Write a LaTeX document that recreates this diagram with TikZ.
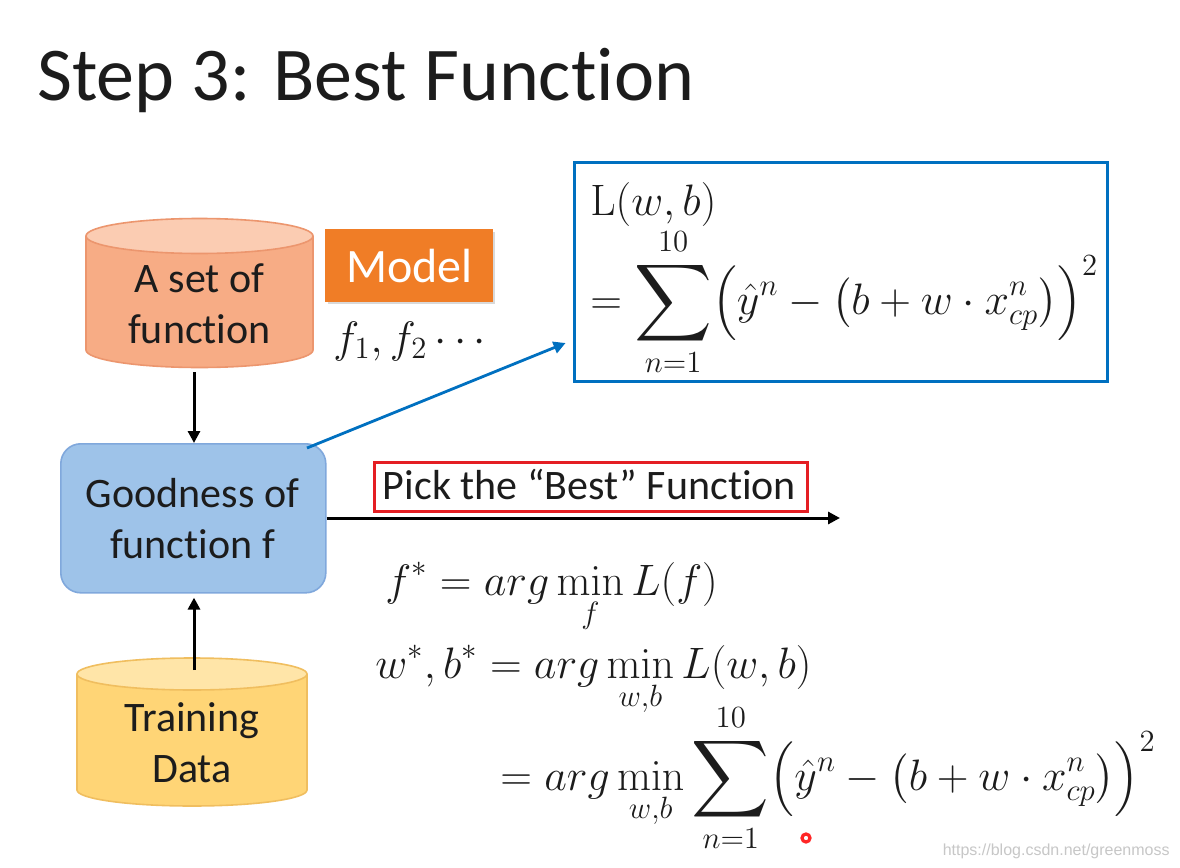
\RequirePackage{fix-cm}
\documentclass[tikz,border=0pt]{standalone}
\usepackage{amsmath}
\usepackage{graphicx}
\usepackage[no-math]{fontspec}
\setmainfont{Carlito}[Ligatures=NoCommon]
\newfontfamily\wmfont{Liberation Sans}
\usetikzlibrary{arrows.meta}
\newcommand{\bigsum}{\mathop{\vcenter{\hbox{\scalebox{1.3}{$\displaystyle\sum$}}}}\limits}
\definecolor{setbody}{RGB}{247,172,133}
\definecolor{settop}{RGB}{251,204,178}
\definecolor{setline}{RGB}{236,150,110}
\definecolor{trbody}{RGB}{255,213,118}
\definecolor{trtop}{RGB}{255,229,168}
\definecolor{trline}{RGB}{240,190,95}
\definecolor{goodfill}{RGB}{158,195,233}
\definecolor{goodline}{RGB}{128,168,220}
\definecolor{modelfill}{RGB}{240,125,38}
\definecolor{bluebox}{RGB}{0,112,192}
\definecolor{redbox}{RGB}{228,30,35}
\definecolor{txt}{RGB}{28,28,28}
\tikzset{
  lbl/.style={font=\fontsize{21}{25.5}\selectfont, text=txt, align=center, inner sep=0pt},
  mth/.style={font=\fontsize{22}{26}\selectfont, text=txt, inner sep=0pt, anchor=base west},
  blackarrow/.style={draw=black, line width=1.5pt, -{Triangle[length=6pt,width=6pt]}},
  bluearrow/.style={draw=bluebox, line width=1.4pt, -{Triangle[length=6pt,width=6pt]}},
}
\begin{document}
\begin{tikzpicture}[x=0.5pt,y=-0.5pt]
\useasboundingbox (0,0) rectangle (1180,868);
\fill[white] (0,0) rectangle (1180,868);
% title
\node[anchor=base west, inner sep=0pt, text=txt, font=\fontsize{38}{40}\selectfont] (title) at (37,100) {Step 3: Best Function};
% set of function cylinder
\fill[setbody] (86,236) rectangle (313,350);
\fill[setbody] (199.5,350) ellipse [x radius=113.5, y radius=17.5];
\draw[setline, line width=0.8pt] (86,236) -- (86,350) arc[start angle=180, end angle=0, x radius=113.5, y radius=17.5] -- (313,236);
\filldraw[fill=settop, draw=setline, line width=0.8pt] (199.5,236) ellipse [x radius=113.5, y radius=17.5];
\node[lbl] (set) at (199.5,304) {A set of\\function};
\coordinate (setbot) at (194,372);
% model
\fill[black!15] (328,232) rectangle (495,304);
\node[fill=modelfill, text=white, inner sep=0pt, minimum width=84pt, minimum height=36.5pt, font=\fontsize{24}{28}\selectfont, anchor=north west] (model) at (325,229) {Model};
\node[mth, text=txt] (fs) at (333,352) {$f_1,f_2\cdots$};
% goodness
\node[draw=goodline, fill=goodfill, rounded corners=10pt, line width=0.8pt, minimum width=132.5pt, minimum height=74.5pt, anchor=north west] (good) at (60,443) {};
\node[lbl] (goodtext) at (192.5,519) {Goodness of\\function f};
% training data
\fill[trbody] (77,674) rectangle (307,790);
\fill[trbody] (192,790) ellipse [x radius=115, y radius=16];
\draw[trline, line width=0.8pt] (77,674) -- (77,790) arc[start angle=180, end angle=0, x radius=115, y radius=16] -- (307,674);
\filldraw[fill=trtop, draw=trline, line width=0.8pt] (192,674) ellipse [x radius=115, y radius=16];
\node[lbl] (train) at (192,743) {Training\\Data};
\coordinate (trtopc) at (194,670);
% arrows
\draw[blackarrow] (setbot) -- (good.north -| setbot);
\draw[blackarrow, shorten >=2pt] (trtopc) -- (good.south -| trtopc);
% blue box
\node[draw=bluebox, line width=1.5pt, minimum width=266.5pt, minimum height=109.5pt, anchor=north west] (loss) at (573,161) {};
\node[mth] (l1) at (590,215) {$\mathrm{L}(w,b)$};
\node[mth] (l2) at (590,314) {$\displaystyle = \bigsum_{n=1}^{10}\Bigl(\hat{y}^n - \bigl(b + w\cdot x_{cp}^n\bigr)\Bigr)^2$};
\coordinate (goodcorner) at (307,448);
\draw[bluearrow, shorten >=4pt] (goodcorner) -- (loss.west |- 0,340);
% pick box
\node[draw=redbox, line width=1.5pt, minimum width=216.5pt, minimum height=24.5pt, anchor=north west] (pick) at (373,461) {};
\node[lbl, anchor=center] (picktext) at (589.5,485) {Pick the “Best” Function};
\coordinate (arrend) at (840,518);
\draw[blackarrow] (good.east |- arrend) -- (arrend);
% formulas
\node[mth] (e1) at (385,595) {$\displaystyle f^* = arg\min_f L(f)$};
\node[mth] (e2) at (375,678) {$\displaystyle w^*, b^* = arg\min_{w,b} L(w,b)$};
\node[mth] (e3) at (500,790) {$\displaystyle = arg\min_{w,b}\bigsum_{n=1}^{10}\Bigl(\hat{y}^n - \bigl(b + w\cdot x_{cp}^n\bigr)\Bigr)^2$};
% pointer dot and watermark
\draw[red!85, line width=1.6pt] (806,838) circle [radius=4];
\node[anchor=base east, inner sep=0pt, text=black!22, font=\wmfont\fontsize{8}{9}\selectfont] (wm) at (1170,855) {https://blog.csdn.net/greenmoss};
\end{tikzpicture}
\end{document}
